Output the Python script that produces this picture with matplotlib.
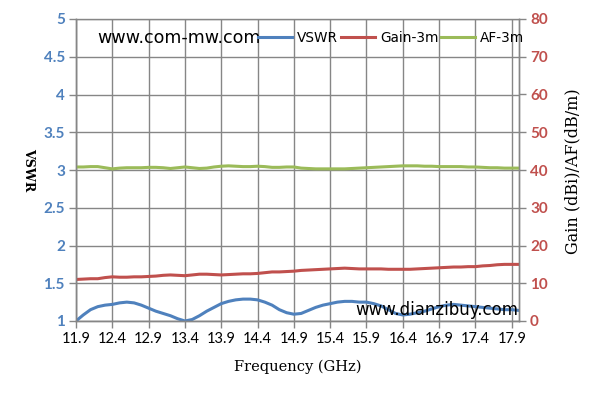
import matplotlib.pyplot as plt
from matplotlib.lines import Line2D

# frequency points (GHz), 0.1 GHz step
freq = [11.9, 12.0, 12.1, 12.2, 12.3, 12.4, 12.5, 12.6, 12.7, 12.8,
        12.9, 13.0, 13.1, 13.2, 13.3, 13.4, 13.5, 13.6, 13.7, 13.8,
        13.9, 14.0, 14.1, 14.2, 14.3, 14.4, 14.5, 14.6, 14.7, 14.8,
        14.9, 15.0, 15.1, 15.2, 15.3, 15.4, 15.5, 15.6, 15.7, 15.8,
        15.9, 16.0, 16.1, 16.2, 16.3, 16.4, 16.5, 16.6, 16.7, 16.8,
        16.9, 17.0, 17.1, 17.2, 17.3, 17.4, 17.5, 17.6, 17.7, 17.8,
        17.9, 18.0]

vswr = [1.00, 1.08, 1.15, 1.19, 1.21, 1.22, 1.24, 1.25, 1.24, 1.21,
        1.17, 1.13, 1.10, 1.07, 1.03, 1.00, 1.02, 1.07, 1.13, 1.18,
        1.23, 1.26, 1.28, 1.29, 1.29, 1.28, 1.25, 1.21, 1.15, 1.11,
        1.09, 1.10, 1.14, 1.18, 1.21, 1.23, 1.25, 1.26, 1.26, 1.25,
        1.25, 1.23, 1.20, 1.15, 1.10, 1.08, 1.09, 1.11, 1.13, 1.16,
        1.19, 1.21, 1.22, 1.21, 1.20, 1.19, 1.18, 1.17, 1.16, 1.15,
        1.15, 1.14]

gain = [11.0, 11.1, 11.2, 11.2, 11.5, 11.7, 11.6, 11.6, 11.7, 11.7,
        11.8, 11.9, 12.1, 12.2, 12.1, 12.0, 12.2, 12.4, 12.4, 12.3,
        12.2, 12.3, 12.4, 12.5, 12.5, 12.6, 12.8, 13.0, 13.0, 13.1,
        13.2, 13.4, 13.5, 13.6, 13.7, 13.8, 13.9, 14.0, 13.9, 13.8,
        13.8, 13.8, 13.8, 13.7, 13.7, 13.7, 13.7, 13.8, 13.9, 14.0,
        14.1, 14.2, 14.3, 14.3, 14.4, 14.4, 14.6, 14.7, 14.9, 15.0,
        15.0, 15.0]

af = [40.8, 40.8, 40.9, 40.9, 40.6, 40.3, 40.5, 40.6, 40.6, 40.6,
      40.7, 40.7, 40.6, 40.4, 40.6, 40.8, 40.6, 40.4, 40.5, 40.8,
      41.0, 41.1, 41.0, 40.9, 40.9, 41.0, 40.9, 40.7, 40.7, 40.8,
      40.8, 40.5, 40.4, 40.3, 40.3, 40.3, 40.3, 40.3, 40.4, 40.5,
      40.6, 40.7, 40.8, 40.9, 41.0, 41.1, 41.1, 41.1, 41.0, 41.0,
      40.9, 40.9, 40.9, 40.9, 40.8, 40.8, 40.7, 40.6, 40.6, 40.5,
      40.5, 40.5]

xticks = [11.9, 12.4, 12.9, 13.4, 13.9, 14.4, 14.9, 15.4, 15.9, 16.4, 16.9, 17.4, 17.9]
xlabels = ['11.9', '12.4', '12.9', '13.4', '13.9', '14.4', '14.9',
           '15.4', '15.9', '16.4', '16.9', '17.4', '17.9']
left_ticks = [1, 1.5, 2, 2.5, 3, 3.5, 4, 4.5, 5]
left_labels = ['1', '1.5', '2', '2.5', '3', '3.5', '4', '4.5', '5']
right_ticks = [0, 10, 20, 30, 40, 50, 60, 70, 80]

blue = '#4F81BD'
red = '#C0504D'
green = '#9BBB59'
grey = '#868686'

plt.rcParams['font.family'] = ['Lato', 'DejaVu Sans']

fig = plt.figure(figsize=(5.89, 4.04), dpi=100)
ax = fig.add_axes([76 / 589, 1 - 321 / 404, 443 / 589, 302 / 404])
ax2 = ax.twinx()

ax.plot(freq, vswr, color=blue, lw=2.2, solid_capstyle='round')
ax2.plot(freq, gain, color=red, lw=2.2, solid_capstyle='round')
ax2.plot(freq, af, color=green, lw=2.2, solid_capstyle='round')

ax.set_xlim(11.9, 18.0)
ax.set_ylim(1, 5)
ax2.set_ylim(0, 80)

ax.set_xticks(xticks)
ax.set_xticklabels(xlabels, fontsize=10.5)
ax.set_yticks(left_ticks)
ax.set_yticklabels(left_labels, fontsize=11, fontweight='bold', color=blue)
ax2.set_yticks(right_ticks)
ax2.set_yticklabels([str(t) for t in right_ticks], fontsize=11, fontweight='bold', color=red)

ax.grid(True, color=grey, lw=1.0)
ax.set_axisbelow(True)
for a in (ax, ax2):
    for s in a.spines.values():
        s.set_color(grey)
        s.set_linewidth(1.0)
    a.tick_params(color=grey, length=5, width=1.0, pad=3)
ax2.spines['top'].set_visible(False)

ax.set_xlabel('Frequency (GHz)', family='DejaVu Serif', fontsize=10.5, labelpad=10)
ax.set_ylabel('VSWR', family='DejaVu Serif', fontsize=9, fontweight='bold', rotation=-90,
              va='center', ha='center')
ax.yaxis.set_label_coords((29 - 76) / 443, 0.5)
ax2.set_ylabel('Gain (dBi)/AF(dB/m)', family='DejaVu Serif', fontsize=11.5, rotation=90,
               va='center', ha='center')
ax2.yaxis.set_label_coords((573 - 76) / 443, (321 - 171) / 302)

# legend with watermark text in front of it
handles = [Line2D([], [], color=blue, lw=2.2),
           Line2D([], [], color=red, lw=2.2),
           Line2D([], [], color=green, lw=2.2)]
fig.legend(handles, ['VSWR', 'Gain-3m', 'AF-3m'], ncol=3, frameon=False,
           loc='center left', bbox_to_anchor=(258 / 589, 1 - 38 / 404),
           borderpad=0, borderaxespad=0,
           handlelength=2.5, handletextpad=0.37, columnspacing=0.2,
           prop={'family': 'DejaVu Sans', 'size': 9.8})
fig.text(97 / 589, 1 - 38 / 404, 'www.com-mw.com', fontsize=12.6, va='center', ha='left',
         family='DejaVu Sans')
fig.text(518 / 589, 1 - 310 / 404, 'www.dianzibuy.com', fontsize=12, va='center', ha='right',
         family='DejaVu Sans')

fig.savefig('out.png', dpi=100)
